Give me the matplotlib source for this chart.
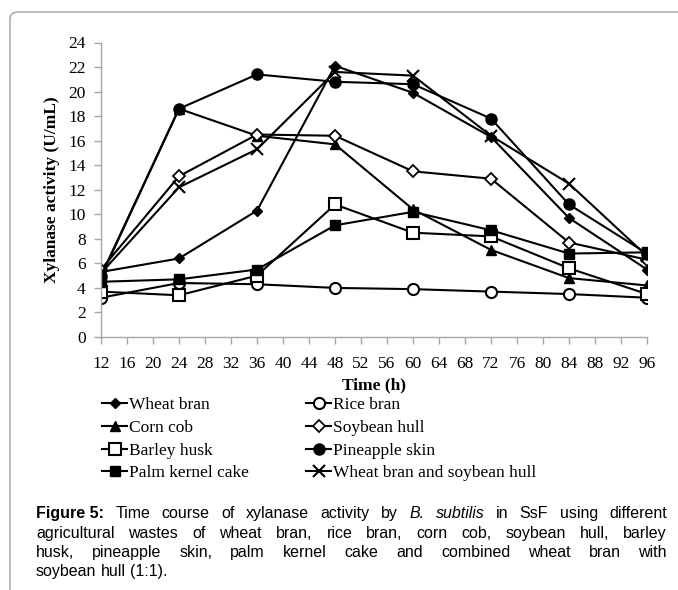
import matplotlib
matplotlib.use('Agg')
import matplotlib.pyplot as plt
from matplotlib.patches import FancyBboxPatch

# ---- data ----
hours = [12, 24, 36, 48, 60, 72, 84, 96]
x_ticks = list(range(12, 97, 4))
y_ticks = list(range(0, 25, 2))

wheat_bran = [5.3, 6.4, 10.3, 22.1, 19.9, 16.3, 9.7, 5.5]
rice_bran = [3.2, 4.4, 4.3, 4.0, 3.9, 3.7, 3.5, 3.2]
corn_cob = [4.9, 18.6, 16.4, 15.7, 10.4, 7.1, 4.8, 4.2]
soybean_hull = [5.5, 13.1, 16.5, 16.4, 13.5, 12.9, 7.7, 6.3]
barley_husk = [3.7, 3.4, 5.0, 10.8, 8.5, 8.2, 5.6, 3.5]
pineapple_skin = [5.0, 18.6, 21.4, 20.8, 20.6, 17.8, 10.8, 6.8]
palm_kernel_cake = [4.5, 4.7, 5.5, 9.1, 10.2, 8.7, 6.8, 6.9]
wheat_soy = [5.2, 12.2, 15.3, 21.6, 21.3, 16.4, 12.5, 6.6]

series_names = ["Wheat bran", "Rice bran", "Corn cob", "Soybean hull",
                "Barley husk", "Pineapple skin", "Palm kernel cake",
                "Wheat bran and soybean hull"]
series_values = [wheat_bran, rice_bran, corn_cob, soybean_hull,
                 barley_husk, pineapple_skin, palm_kernel_cake, wheat_soy]

# ---- styles ----
styles = [
    dict(marker='D', ms=5, mfc='black', mec='black'),
    dict(marker='o', ms=8, mfc='white', mec='black', mew=1.5),
    dict(marker='^', ms=7, mfc='black', mec='black'),
    dict(marker='D', ms=6, mfc='white', mec='black', mew=1.3),
    dict(marker='s', ms=8, mfc='white', mec='black', mew=1.5),
    dict(marker='o', ms=8, mfc='black', mec='black'),
    dict(marker='s', ms=7, mfc='black', mec='black'),
    dict(marker='x', ms=8, mfc='black', mec='black', mew=1.5),
]

W, H = 678, 590
fig = plt.figure(figsize=(W / 100, H / 100), dpi=100)

def fx(px):
    return px / W

def fy(py):
    return 1 - py / H

serif = 'Liberation Serif'
sans = 'Liberation Sans'

ax = fig.add_axes([fx(101), fy(337), fx(647) - fx(101), fy(42.5) - fy(337)])
handles = []
for name, vals, st in zip(series_names, series_values, styles):
    h, = ax.plot(hours, vals, color='black', lw=1.5, label=name, **st)
    handles.append(h)

ax.set_xlim(12, 96)
ax.set_ylim(0, 24)
ax.set_xticks(x_ticks)
ax.set_yticks(y_ticks)
ax.set_xticklabels([str(v) for v in x_ticks], family=serif, fontsize=12.5)
ax.set_yticklabels([str(v) for v in y_ticks], family=serif, fontsize=12.5)
for s in ['top', 'right']:
    ax.spines[s].set_visible(False)
for s in ['left', 'bottom']:
    ax.spines[s].set_color('#a6a6a6')
    ax.spines[s].set_linewidth(1.0)
ax.tick_params(axis='both', direction='out', length=5, width=1.0,
               color='#a6a6a6', labelcolor='black', pad=6)
ax.tick_params(axis='x', pad=9)
ax.set_facecolor('none')

fig.text(fx(52), fy(190), "Xylanase activity (U/mL)", rotation=90,
         ha='center', va='center', family=serif, fontsize=12.5, fontweight='bold')
fig.text(fx(374), fy(385), "Time (h)", ha='center', va='center',
         family=serif, fontsize=12.5, fontweight='bold')

order = [0, 2, 4, 6, 1, 3, 5, 7]
leg = fig.legend([handles[i] for i in order], [series_names[i] for i in order],
                 ncol=2, loc='upper left', bbox_to_anchor=(fx(102), fy(397)),
                 frameon=False, prop=dict(family=serif, size=12.5),
                 handlelength=1.45, handletextpad=0.1, columnspacing=3.3,
                 labelspacing=0.38, borderaxespad=0, borderpad=0)

# ---- caption ----
cap_fs = 11.5
caption_lines = [
    [("Figure 5:", 'bold', 'normal'), ("Time", 'normal', 'normal'), ("course", 'normal', 'normal'),
     ("of", 'normal', 'normal'), ("xylanase", 'normal', 'normal'), ("activity", 'normal', 'normal'),
     ("by", 'normal', 'normal'), ("B.", 'normal', 'italic'), ("subtilis", 'normal', 'italic'),
     ("in", 'normal', 'normal'), ("SsF", 'normal', 'normal'), ("using", 'normal', 'normal'),
     ("different", 'normal', 'normal')],
    [(w, 'normal', 'normal') for w in
     "agricultural wastes of wheat bran, rice bran, corn cob, soybean hull, barley".split()],
    [(w, 'normal', 'normal') for w in
     "husk, pineapple skin, palm kernel cake and combined wheat bran with".split()],
    [(w, 'normal', 'normal') for w in "soybean hull (1:1).".split()],
]
cap_baseline = [518, 538, 557, 576]
x0, x1 = 36, 667
renderer = fig.canvas.get_renderer()
for li, (toks, yy) in enumerate(zip(caption_lines, cap_baseline)):
    texts, widths = [], []
    for w, wt, stl in toks:
        t = fig.text(0, fy(yy), w, fontsize=cap_fs, fontweight=wt, fontstyle=stl,
                     family=sans, va='baseline', ha='left')
        texts.append(t)
        widths.append(t.get_window_extent(renderer).width)
    if li < len(caption_lines) - 1:
        gap = (x1 - x0 - sum(widths)) / (len(toks) - 1)
    else:
        gap = cap_fs * 0.278 * 100 / 72
    x = x0
    for t, wd in zip(texts, widths):
        t.set_x(fx(x))
        x += wd + gap

# ---- border ----
border = FancyBboxPatch((fx(10), fy(800)), 2.0, fy(12) - fy(800),
                        boxstyle="round,pad=0,rounding_size=0.012",
                        transform=fig.transFigure, fill=False,
                        edgecolor='#a0a0a0', lw=1.0, clip_on=False)
fig.patches.append(border)

fig.savefig('out.png', dpi=100)
